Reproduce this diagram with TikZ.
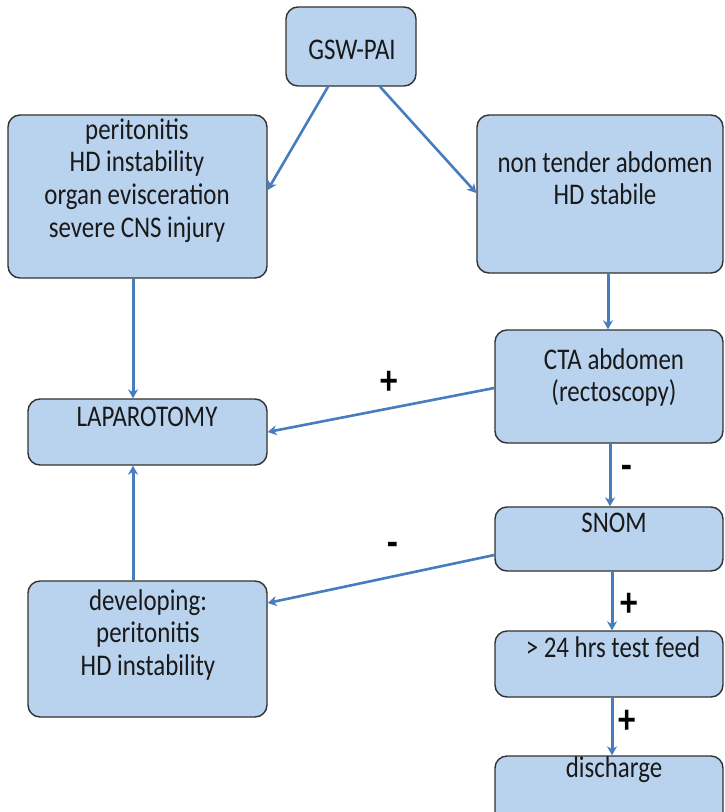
\documentclass[tikz,border=0pt]{standalone}
\usepackage{fontspec}
\newfontfamily\cf{Carlito}[FakeStretch=0.83]
\usetikzlibrary{arrows.meta,calc}
\definecolor{boxfill}{RGB}{185,211,238}
\definecolor{boxline}{RGB}{50,50,50}
\definecolor{arr}{RGB}{70,125,190}
\newcommand{\tl}[1]{{\setlength{\tabcolsep}{0pt}\begin{tabular}[t]{c}#1\end{tabular}}}
\tikzset{
  fbox/.style={draw=boxline, line width=1.4pt, fill=boxfill, rounded corners=12pt, inner sep=0pt},
  ftext/.style={inner sep=0pt, anchor=base, font=\cf\fontsize{30}{32.7}\selectfont, text=black!90},
  flow/.style={draw=arr, line width=3pt, -{Stealth[length=9pt,width=10pt]}},
  sign/.style={inner sep=0pt, font=\cf\bfseries\fontsize{42}{44}\selectfont}
}
\begin{document}
\begin{tikzpicture}[x=1pt,y=1pt]
\clip (0,0) rectangle (725,-812);
\fill[white] (0,0) rectangle (725,-812);
% boxes
\node[fbox, minimum width=130pt, minimum height=79pt] (gsw) at (351,-46.5) {};
\node[fbox, minimum width=259pt, minimum height=163pt] (left) at (137.5,-196.5) {};
\node[fbox, minimum width=246pt, minimum height=158pt] (right) at (600,-194) {};
\node[fbox, minimum width=228pt, minimum height=113pt] (cta) at (609,-386.5) {};
\node[fbox, minimum width=239pt, minimum height=66pt] (lap) at (147.5,-432) {};
\node[fbox, minimum width=228pt, minimum height=64pt] (snom) at (609,-539) {};
\node[fbox, minimum width=239pt, minimum height=136pt] (dev) at (147.5,-649) {};
\node[fbox, minimum width=228pt, minimum height=66pt] (feed) at (609,-664) {};
\node[fbox, minimum width=228pt, minimum height=80pt] (dis) at (609,-796) {};
% texts
\node[ftext] (tgsw) at (352,-59) {\tl{GSW-PAI}};
\node[ftext] (tleft) at (137,-139) {\tl{peritonitis\\HD instability\\organ evisceration\\severe CNS injury}};
\node[ftext] (tright) at (605,-172) {\tl{non tender abdomen\\HD stabile}};
\node[ftext] (tcta) at (614,-369) {\tl{CTA abdomen\\(rectoscopy)}};
\node[ftext] (tlap) at (147,-426) {\tl{LAPAROTOMY}};
\node[ftext] (tsnom) at (614,-532) {\tl{SNOM}};
\node[ftext] (tdev) at (148,-610) {\tl{developing:\\peritonitis\\HD instability}};
\node[ftext] (tfeed) at (613,-657) {\tl{> 24 hrs test feed}};
\node[ftext] (tdis) at (614,-777) {\tl{discharge}};
% connectors
\draw[flow, line width=2.6pt] ([xshift=-23pt]gsw.south) -- ([yshift=6.5pt]left.east);
\draw[flow, line width=2.6pt] ([xshift=29pt]gsw.south) -- ([yshift=1pt]right.west);
\draw[flow] ([xshift=-4.5pt]left.south) -- ([xshift=-4.5pt]left.south |- lap.north);
\draw[flow] ([xshift=8pt]right.south) -- ([xshift=8pt]right.south |- cta.north);
\draw[flow, line width=2.6pt] ([yshift=-1.5pt]cta.west) -- (lap.east);
\draw[flow] ([xshift=1pt]cta.south) -- ([xshift=1pt]cta.south |- snom.north);
\draw[flow, line width=2.6pt] ([yshift=-16pt]snom.west) -- ([yshift=46pt]dev.east);
\draw[flow] ([xshift=-14.5pt]dev.north) -- ([xshift=-14.5pt]dev.north |- lap.south);
\draw[flow] ([xshift=3pt]snom.south) -- ([xshift=3pt]snom.south |- feed.north);
\draw[flow] ([xshift=3pt]feed.south) -- ([xshift=3pt]feed.south |- dis.north);
% signs
\node[sign] (s1) at (389,-383) {+};
\node[sign] (s2) at (627,-472) {-};
\node[sign] (s3) at (629,-605) {+};
\node[sign] (s4) at (627,-722) {+};
\node[sign] (s5) at (393,-549) {-};
\end{tikzpicture}
\end{document}
